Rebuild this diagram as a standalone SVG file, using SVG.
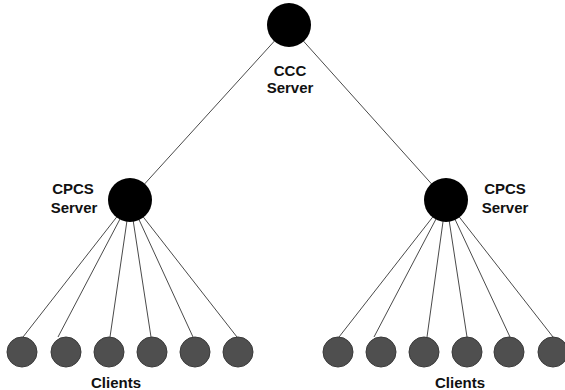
<svg xmlns="http://www.w3.org/2000/svg" width="565" height="390" viewBox="0 0 565 390">
  <style>
    .link { stroke: #4a4a4a; stroke-width: 1; fill: none; }
    .server { fill: #000; }
    .client { fill: #4f4f4f; stroke: #3a3a3a; stroke-width: 1; }
    .label { font-family: "Liberation Sans", Arial, sans-serif; font-weight: bold; font-size: 15px; fill: #111; text-anchor: middle; }
  </style>
  <rect width="565" height="390" fill="#fff"/>

  <g id="connectors">
    <!-- CCC server to the two CPCS servers -->
    <line class="link" x1="289" y1="25" x2="130" y2="200"/>
    <line class="link" x1="289" y1="25" x2="446" y2="200"/>
    <!-- left CPCS server to its clients -->
    <line class="link" x1="130" y1="200" x2="23" y2="337"/>
    <line class="link" x1="130" y1="200" x2="58" y2="337"/>
    <line class="link" x1="130" y1="200" x2="110" y2="337"/>
    <line class="link" x1="130" y1="200" x2="151" y2="337"/>
    <line class="link" x1="130" y1="200" x2="193" y2="337"/>
    <line class="link" x1="130" y1="200" x2="237" y2="337"/>
    <!-- right CPCS server to its clients -->
    <line class="link" x1="446" y1="200" x2="339" y2="337"/>
    <line class="link" x1="446" y1="200" x2="374" y2="337"/>
    <line class="link" x1="446" y1="200" x2="427" y2="337"/>
    <line class="link" x1="446" y1="200" x2="467" y2="337"/>
    <line class="link" x1="446" y1="200" x2="510" y2="337"/>
    <line class="link" x1="446" y1="200" x2="553" y2="337"/>
  </g>

  <g id="ccc-server">
    <circle class="server" cx="289" cy="25" r="22"/>
    <text class="label" x="290" y="76">CCC</text>
    <text class="label" x="290" y="93">Server</text>
  </g>

  <g id="cpcs-server-left">
    <circle class="server" cx="130" cy="200" r="22"/>
    <text class="label" x="73" y="194">CPCS</text>
    <text class="label" x="74" y="213">Server</text>
  </g>

  <g id="cpcs-server-right">
    <circle class="server" cx="446" cy="200" r="22"/>
    <text class="label" x="505" y="194">CPCS</text>
    <text class="label" x="505" y="213">Server</text>
  </g>

  <g id="clients-left">
    <circle class="client" cx="22" cy="352" r="15"/>
    <circle class="client" cx="66" cy="352" r="15"/>
    <circle class="client" cx="109" cy="352" r="15"/>
    <circle class="client" cx="152" cy="352" r="15"/>
    <circle class="client" cx="195" cy="352" r="15"/>
    <circle class="client" cx="238" cy="352" r="15"/>
    <text class="label" x="116" y="388">Clients</text>
  </g>

  <g id="clients-right">
    <circle class="client" cx="338" cy="352" r="15"/>
    <circle class="client" cx="381" cy="352" r="15"/>
    <circle class="client" cx="424" cy="352" r="15"/>
    <circle class="client" cx="467" cy="352" r="15"/>
    <circle class="client" cx="509" cy="352" r="15"/>
    <circle class="client" cx="553" cy="352" r="15"/>
    <text class="label" x="460" y="388">Clients</text>
  </g>
</svg>
